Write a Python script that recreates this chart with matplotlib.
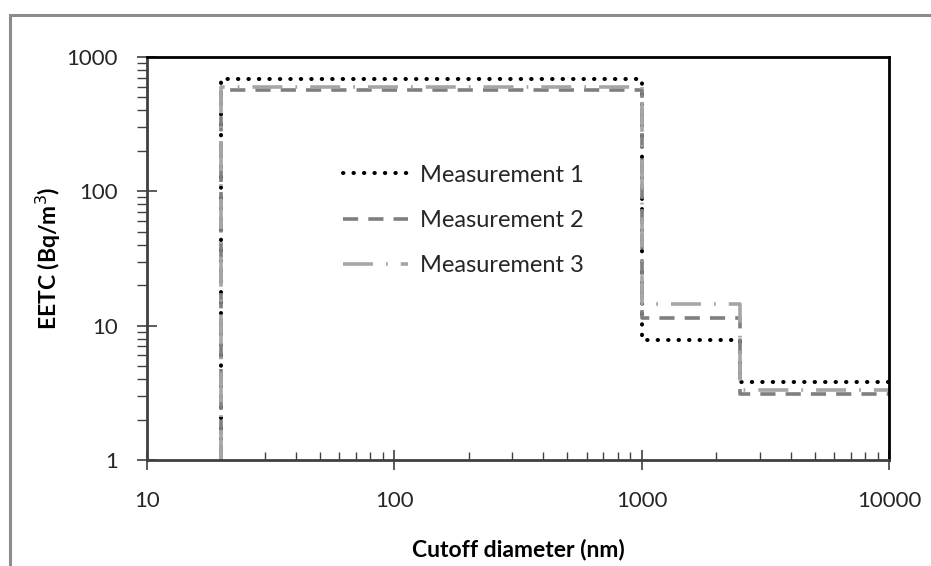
import matplotlib
matplotlib.use("Agg")
import matplotlib.pyplot as plt
from matplotlib.patches import Rectangle
from matplotlib.ticker import LogLocator, FixedLocator, NullFormatter

plt.rcParams['font.family'] = ['Lato', 'DejaVu Sans']

# cutoff diameters (nm) where the steps change
cutoffs = [20, 1000, 2500, 10000]
labels = ['Measurement 1', 'Measurement 2', 'Measurement 3']
meas1 = [690, 7.8, 3.8]
meas2 = [570, 11.5, 3.1]
meas3 = [600, 14.5, 3.3]
xticks = [10, 100, 1000, 10000]
yticks = [1, 10, 100, 1000]

fig = plt.figure(figsize=(9.31, 5.66), dpi=100)
# outer gray frame (right and bottom edges fall outside the picture)
fig.patches.append(Rectangle((10 / 931, -0.1), 1.2, (566 - 15) / 566 + 0.1,
                             transform=fig.transFigure, fill=False,
                             edgecolor='#8c8c8c', linewidth=2.2))
ax = fig.add_axes([147 / 931, (566 - 460) / 566, 742 / 931, 403 / 566])

styles = [
    dict(color='black', linestyle=(0, (0.1, 2.5)), linewidth=2.9, dash_capstyle='round'),
    dict(color='#7f7f7f', linestyle=(0, (4.2, 2.8)), linewidth=2.6),
    dict(color='#a6a6a6', linestyle=(0, (8.3, 3.6, 0.5, 3.6)), linewidth=2.6),
]

for vals, lab, st in zip([meas1, meas2, meas3], labels, styles):
    xs = [cutoffs[0]] + cutoffs
    ys = [1] + vals + [vals[-1]]
    ax.step(xs, ys, where='post', label=lab, **st)

ax.set_xscale('log')
ax.set_yscale('log')
ax.set_xlim(10, 10000)
ax.set_ylim(1, 1000)

ax.xaxis.set_major_locator(FixedLocator(xticks))
ax.yaxis.set_major_locator(FixedLocator(yticks))
ax.set_xticklabels([str(t) for t in xticks])
ax.set_yticklabels([str(t) for t in yticks])
ax.xaxis.set_minor_locator(LogLocator(base=10, subs=range(2, 10)))
ax.yaxis.set_minor_locator(LogLocator(base=10, subs=range(2, 10)))
ax.xaxis.set_minor_formatter(NullFormatter())
ax.yaxis.set_minor_formatter(NullFormatter())

ax.tick_params(axis='both', which='major', direction='inout', length=14, width=1.2,
               colors='#404040', labelcolor='#262626', labelsize=16)
ax.tick_params(axis='x', which='minor', direction='in', length=6, width=1, colors='#404040')
ax.tick_params(axis='y', which='minor', direction='out', length=7, width=1, colors='#404040')
ax.tick_params(axis='x', which='major', pad=15)
ax.tick_params(axis='y', which='major', pad=14)

for side in ['left', 'bottom']:
    ax.spines[side].set_color('#404040')
    ax.spines[side].set_linewidth(2)
for side in ['top', 'right']:
    ax.spines[side].set_color('black')
    ax.spines[side].set_linewidth(2)

ax.set_xlabel('Cutoff diameter (nm)', fontsize=16.5, fontweight='bold')
ax.set_ylabel('EETC (Bq/m$^3$)', fontsize=16.5, fontweight='bold')
ax.xaxis.set_label_coords(0.5, -0.195)
ax.yaxis.set_label_coords(-0.113, 0.5)

leg = ax.legend(loc='upper left', bbox_to_anchor=(0.264, 0.733), frameon=False,
                fontsize=17, handlelength=2.75, labelspacing=1.03, handletextpad=0.5,
                borderpad=0, borderaxespad=0)
for t in leg.get_texts():
    t.set_color('#262626')

fig.savefig('out.png', dpi=100)
